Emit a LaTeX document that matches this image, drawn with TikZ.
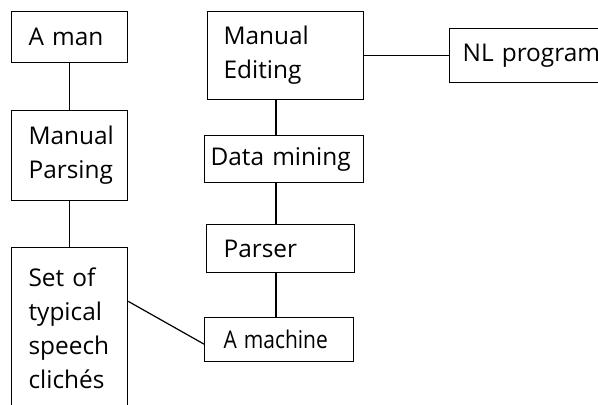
\documentclass[tikz,border=0pt]{standalone}
\usepackage{fontspec}
\setmainfont{Open Sans}
\usepackage{tikz}
\usetikzlibrary{calc}

\begin{document}
\begin{tikzpicture}[x=0.5pt, y=-0.5pt,
  box/.style={draw, line width=0.6pt, rectangle, anchor=north west, align=left,
    inner ysep=0pt, font=\fontsize{12.2}{17}\selectfont},
  link/.style={line width=0.6pt}]

% Page and clip
\useasboundingbox (0,0) rectangle (598,405);
\clip (0,0) rectangle (598,405);

% Left column
\node[box, inner xsep=8.5pt, text width=41pt, minimum height=25.5pt] (man) at (11,11) {A man};
\node[box, inner xsep=8.5pt, text width=41pt, minimum height=45pt] (mparse) at (11,110) {Manual\\Parsing};
\node[box, inner xsep=8.5pt, text width=41pt, minimum height=80.5pt] (cliche) at (11,247) {Set of\\typical\\speech\\clichés};

% Right column
\node[box, inner xsep=8pt, text width=62pt, minimum height=44pt] (medit) at (207,11) {Manual\\Editing};
\node[box, inner xsep=6.5pt, text width=100pt, minimum height=27pt] (nlprog) at (449,28) {NL program};
\node[box, inner xsep=3pt, text width=73.5pt, minimum height=23.5pt] (mining) at (204,135) {Data mining};
\node[box, inner xsep=8.5pt, text width=57pt, minimum height=24pt] (parser) at (206,224) {Parser};
\node[box, inner xsep=9.5pt, text width=55.5pt, minimum height=22pt] (machine) at (204,317) {\scalebox{0.86}[1]{A machine}};

% Connectors
\coordinate (spine) at (276,0);
\draw[link] (man.south) -- (mparse.north);
\draw[link] (mparse.south) -- (cliche.north);
\draw[link] (medit.east) -- (nlprog.west);
\draw[link] (medit.south -| spine) -- (mining.north -| spine);
\draw[link] (mining.south -| spine) -- (parser.north -| spine);
\draw[link] (parser.south -| spine) -- (machine.north -| spine);
\draw[link] ($(cliche.north east)!0.335!(cliche.south east)$) -- ($(machine.north west)!0.6!(machine.south west)$);

\end{tikzpicture}
\end{document}
